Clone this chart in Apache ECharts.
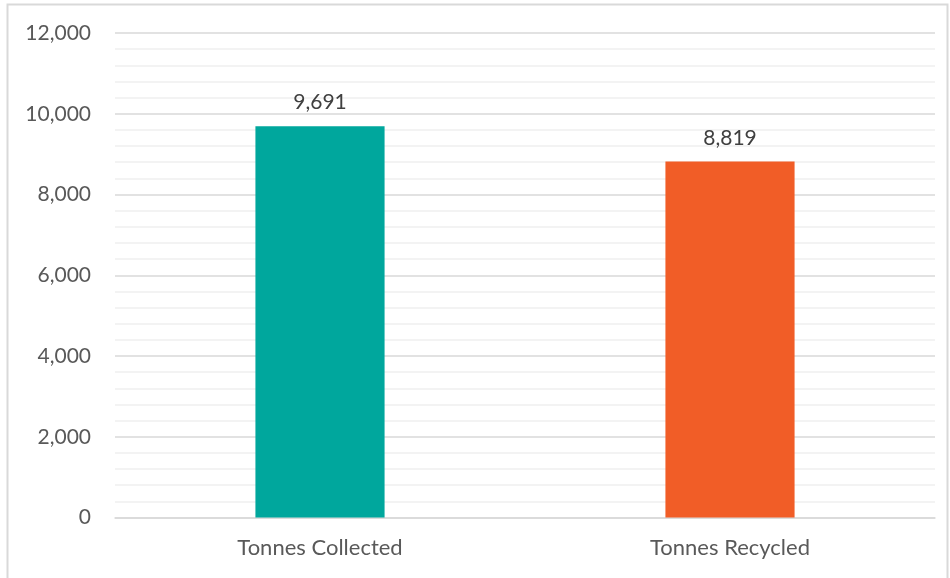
<!DOCTYPE html>
<html><head><meta charset="utf-8">
<script src="https://cdn.jsdelivr.net/npm/echarts@6/dist/echarts.min.js"></script>
<style>html,body{margin:0;padding:0;background:#fff}#c{width:950px;height:578px}</style>
</head><body><div id="c"></div>
<script>
const categories = ['Tonnes Collected', 'Tonnes Recycled'];
const values = [9691, 8819];
const barColors = ['#00A79D', '#F15D27'];
const yTicks = [0, 2000, 4000, 6000, 8000, 10000, 12000];

const chart = echarts.init(document.getElementById('c'), null, {renderer: 'canvas'});
const fmt = v => v.toLocaleString('en-US');
chart.setOption({
  animation: false,
  backgroundColor: '#fff',
  graphic: [{type: 'rect', shape: {x: 7.5, y: 4.5, width: 940, height: 575}, style: {fill: 'none', stroke: '#d9d9d9', lineWidth: 2}, silent: true}],
  grid: {left: 115, right: 15, top: 33, bottom: 60.5, containLabel: false},
  xAxis: {
    type: 'category', data: categories,
    axisLine: {lineStyle: {color: '#d9d9d9', width: 1.5}},
    axisTick: {show: false},
    axisLabel: {color: '#595959', fontFamily: 'Lato', fontSize: 22, margin: 19}
  },
  yAxis: {
    type: 'value', min: yTicks[0], max: yTicks[yTicks.length - 1], interval: 2000,
    axisLine: {show: false}, axisTick: {show: false},
    axisLabel: {color: '#595959', fontFamily: 'Lato', fontSize: 21, margin: 24, formatter: fmt},
    splitLine: {lineStyle: {color: '#d9d9d9', width: 1.5}},
    minorTick: {show: false, splitNumber: 5},
    minorSplitLine: {show: true, lineStyle: {color: '#f0f0f0', width: 1.5}}
  },
  series: [{
    type: 'bar', barWidth: '31.5%',
    data: values.map((v, i) => ({value: v, itemStyle: {color: barColors[i]}})),
    label: {show: true, position: 'top', distance: 13, color: '#404040', fontFamily: 'Lato', fontSize: 21, formatter: p => fmt(p.value)}
  }]
});
</script></body></html>
